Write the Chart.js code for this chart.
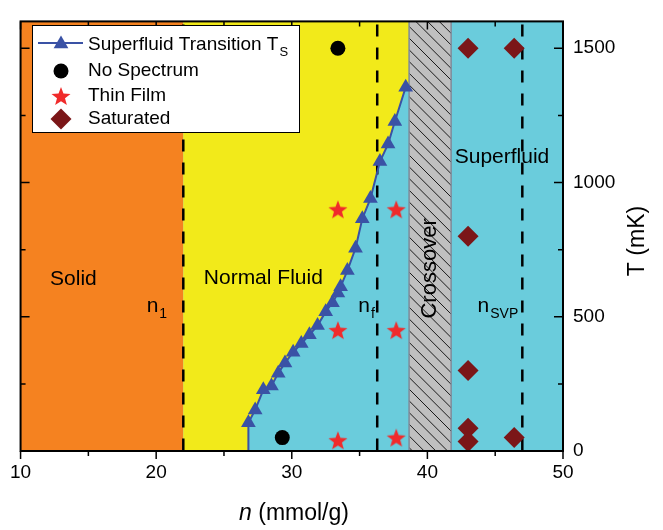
<!DOCTYPE html>
<html>
<head>
<meta charset="utf-8">
<script src="https://cdn.jsdelivr.net/npm/chart.js@4.4.1/dist/chart.umd.min.js"></script>
<style>
  html, body { margin: 0; padding: 0; background: #fff; }
  #wrap { width: 663px; height: 530px; }
</style>
</head>
<body>
<div id="wrap"><canvas id="phaseChart" width="663" height="530"></canvas></div>
<script>
// superfluid transition T_s (first point is where the line leaves the axis)
const tsN = [26.8, 26.8, 27.3, 27.9, 28.5, 29.0, 29.5, 30.1, 30.7, 31.3, 31.9, 32.5, 33.0, 33.4, 33.6, 34.1, 34.7, 35.2, 35.8, 36.5, 37.1, 37.6, 38.4];
const tsT = [0, 105, 153, 228, 242, 290, 328, 368, 400, 433, 467, 519, 552, 588, 612, 672, 755, 865, 940, 1078, 1143, 1227, 1355];

// measurement points
const noSpecN = [33.4, 29.3];
const noSpecT = [1500, 50];
const filmN = [33.4, 37.7, 33.4, 37.7, 33.4, 37.7];
const filmT = [900, 900, 450, 450, 40, 50];
const satN = [43.0, 46.4, 43.0, 43.0, 43.0, 43.0, 46.4];
const satT = [1500, 1500, 800, 300, 85, 35, 50];

// phase regions and boundaries (n in mmol/g)
const solidRange = [10, 22];
const crossoverRange = [38.65, 41.75];
const boundaryN = [22, 36.3, 47.0];          // n1, nf, nSVP

const xTicks = [10, 20, 30, 40, 50];
const xMinor = [15, 25, 35, 45];
const yTicks = [0, 500, 1000, 1500];
const yMinor = [250, 750, 1250];

const ORANGE = '#f58220';
const YELLOW = '#f2ea1a';
const CYAN = '#6accdc';
const GREY = '#c0c0c0';
const BLUE = '#3a52a5';
const RED = '#f02b2b';
const DARKRED = '#7b1618';
const FONT = "'Liberation Sans', Arial, sans-serif";

// five point star marker (Chart.js 'star' is an asterisk)
const starImg = (function () {
    const c = document.createElement('canvas');
    c.width = 22; c.height = 22;
    const g = c.getContext('2d');
    g.fillStyle = RED;
    g.beginPath();
    for (let i = 0; i < 10; i++) {
        const r = i % 2 === 0 ? 10 : 4.2;
        const a = -Math.PI / 2 + i * Math.PI / 5;
        g.lineTo(11 + r * Math.cos(a), 12 + r * Math.sin(a));
    }
    g.closePath();
    g.fill();
    return c;
})();

function pts(xs, ys) {
    return xs.map((v, i) => ({ x: v, y: ys[i] }));
}

function drawSubText(ctx, base, sub, x, y, size, subSize, align) {
    ctx.font = size + 'px ' + FONT;
    const w1 = ctx.measureText(base).width;
    ctx.font = subSize + 'px ' + FONT;
    const w2 = ctx.measureText(sub).width;
    let x0 = x;
    if (align === 'center') x0 = x - (w1 + w2) / 2;
    ctx.textAlign = 'left';
    ctx.textBaseline = 'alphabetic';
    ctx.font = size + 'px ' + FONT;
    ctx.fillText(base, x0, y);
    ctx.font = subSize + 'px ' + FONT;
    ctx.fillText(sub, x0 + w1 + 1, y + subSize * 0.45);
}

const phasePlugin = {
    id: 'phase',
    beforeDatasetsDraw(chart) {
        const { ctx, chartArea: a, scales: { x, y } } = chart;
        const h = a.bottom - a.top;
        ctx.save();
        ctx.beginPath();
        ctx.rect(a.left, a.top, a.right - a.left, h);
        ctx.clip();

        // superfluid background
        const xs1 = x.getPixelForValue(solidRange[1]);
        ctx.fillStyle = CYAN;
        ctx.fillRect(xs1, a.top, a.right - xs1, h);

        // solid
        const xs0 = x.getPixelForValue(solidRange[0]);
        ctx.fillStyle = ORANGE;
        ctx.fillRect(xs0, a.top, xs1 - xs0, h);

        // normal fluid: left of the T_s line
        const xc0 = x.getPixelForValue(crossoverRange[0]);
        const xc1 = x.getPixelForValue(crossoverRange[1]);
        ctx.fillStyle = YELLOW;
        ctx.beginPath();
        ctx.moveTo(xs1, a.bottom);
        tsN.forEach((n, i) => ctx.lineTo(x.getPixelForValue(n), y.getPixelForValue(tsT[i])));
        ctx.lineTo(xc0, y.getPixelForValue(tsT[tsT.length - 1]));
        ctx.lineTo(xc0, a.top);
        ctx.lineTo(xs1, a.top);
        ctx.closePath();
        ctx.fill();

        // crossover band with hatching
        ctx.fillStyle = GREY;
        ctx.fillRect(xc0, a.top, xc1 - xc0, h);
        ctx.save();
        ctx.beginPath();
        ctx.rect(xc0, a.top, xc1 - xc0, h);
        ctx.clip();
        ctx.strokeStyle = '#1a1a1a';
        ctx.lineWidth = 1;
        ctx.beginPath();
        for (let s = xc0 - h - 20; s < xc1 + 20; s += 11.7) {
            ctx.moveTo(s, a.top);
            ctx.lineTo(s + h, a.top + h);
        }
        ctx.stroke();
        ctx.restore();
        ctx.strokeStyle = '#7f8a99';
        ctx.lineWidth = 1.5;
        ctx.beginPath();
        ctx.moveTo(xc0, a.top); ctx.lineTo(xc0, a.bottom);
        ctx.moveTo(xc1, a.top); ctx.lineTo(xc1, a.bottom);
        ctx.stroke();

        // dashed boundaries
        ctx.strokeStyle = '#000';
        ctx.lineWidth = 2.5;
        ctx.setLineDash([12, 11]);
        ctx.beginPath();
        boundaryN.forEach(n => {
            const px = x.getPixelForValue(n);
            ctx.moveTo(px, a.top + 3);
            ctx.lineTo(px, a.bottom);
        });
        ctx.stroke();
        ctx.setLineDash([]);

        // region labels
        ctx.fillStyle = '#000';
        ctx.font = '21px ' + FONT;
        ctx.textAlign = 'center';
        ctx.textBaseline = 'middle';
        ctx.fillText('Solid', x.getPixelForValue(13.9), y.getPixelForValue(640));
        ctx.fillText('Normal Fluid', x.getPixelForValue(27.9), y.getPixelForValue(645));
        ctx.fillText('Superfluid', x.getPixelForValue(45.5), y.getPixelForValue(1095));
        ctx.save();
        ctx.translate(x.getPixelForValue(40.2), y.getPixelForValue(680));
        ctx.rotate(-Math.PI / 2);
        ctx.font = '22px ' + FONT;
        ctx.fillText('Crossover', 0, 0);
        ctx.restore();

        const ly = y.getPixelForValue(548) + 8;
        drawSubText(ctx, 'n', '1', x.getPixelForValue(19.3), ly, 21, 14, 'left');
        drawSubText(ctx, 'n', 'f', x.getPixelForValue(34.9), ly, 21, 14, 'left');
        drawSubText(ctx, 'n', 'SVP', x.getPixelForValue(43.7), ly, 21, 14, 'left');
        ctx.restore();
    },
    afterDraw(chart) {
        const { ctx, chartArea: a, scales: { x, y } } = chart;
        ctx.save();
        // frame
        ctx.strokeStyle = '#000';
        ctx.lineWidth = 2;
        ctx.strokeRect(a.left, a.top, a.right - a.left, a.bottom - a.top);

        // ticks
        ctx.lineWidth = 1.5;
        ctx.beginPath();
        const xt = (vals, len) => vals.forEach(v => {
            const px = x.getPixelForValue(v);
            ctx.moveTo(px, a.bottom); ctx.lineTo(px, a.bottom + len);
            ctx.moveTo(px, a.top); ctx.lineTo(px, a.top + len);
        });
        const yt = (vals, len) => vals.forEach(v => {
            const py = y.getPixelForValue(v);
            ctx.moveTo(a.right, py); ctx.lineTo(a.right - len, py);
            ctx.moveTo(a.left, py); ctx.lineTo(a.left + len, py);
        });
        xt(xTicks, 8); xt(xMinor, 5);
        yt(yTicks, 9); yt(yMinor, 5);
        ctx.stroke();

        // axis titles
        ctx.fillStyle = '#000';
        ctx.textBaseline = 'middle';
        ctx.font = 'italic 23px ' + FONT;
        const wn = ctx.measureText('n').width;
        ctx.font = '23px ' + FONT;
        const wr = ctx.measureText(' (mmol/g)').width;
        const tx = 294 - (wn + wr) / 2;
        ctx.textAlign = 'left';
        ctx.font = 'italic 23px ' + FONT;
        ctx.fillText('n', tx, 514);
        ctx.font = '23px ' + FONT;
        ctx.fillText(' (mmol/g)', tx + wn, 514);

        ctx.save();
        ctx.translate(638, 241);
        ctx.rotate(-Math.PI / 2);
        ctx.textAlign = 'center';
        ctx.fillText('T (mK)', 0, 0);
        ctx.restore();

        // legend
        ctx.fillStyle = '#fff';
        ctx.fillRect(32, 25, 267, 107);
        ctx.strokeStyle = '#000';
        ctx.lineWidth = 1;
        ctx.strokeRect(32.5, 25.5, 267, 107);

        const ds = chart.data.datasets;
        const rows = [43, 71, 96, 119];
        const sx = 61;
        // line + triangle
        ctx.strokeStyle = BLUE;
        ctx.lineWidth = 2;
        ctx.beginPath();
        ctx.moveTo(38, rows[0]); ctx.lineTo(83, rows[0]);
        ctx.stroke();
        [0, 1, 2, 3].forEach(i => {
            const d = ds[i];
            ctx.fillStyle = d.pointBackgroundColor;
            ctx.strokeStyle = d.pointBorderColor;
            Chart.helpers.drawPoint(ctx, {
                pointStyle: d.pointStyle,
                radius: i === 0 ? 8.5 : d.pointRadius,
                rotation: 0,
                borderWidth: 0
            }, sx, rows[i] + (i === 0 ? 1 : 0));
        });
        ctx.fillStyle = '#000';
        ctx.textBaseline = 'alphabetic';
        drawSubText(ctx, 'Superfluid Transition T', 'S', 88, rows[0] + 7, 19, 13, 'left');
        ctx.font = '19px ' + FONT;
        ctx.textBaseline = 'middle';
        ctx.fillText('No Spectrum', 88, rows[1]);
        ctx.fillText('Thin Film', 88, rows[2]);
        ctx.fillText('Saturated', 88, rows[3]);
        ctx.restore();
    }
};

const ctx = document.getElementById('phaseChart').getContext('2d');

new Chart(ctx, {
    type: 'scatter',
    data: {
        datasets: [{
            label: 'Superfluid Transition Ts',
            data: pts(tsN, tsT),
            showLine: true,
            borderColor: BLUE,
            borderWidth: 2,
            pointStyle: 'triangle',
            pointRadius: c => (c.dataIndex === 0 ? 0 : 8.5),
            pointBackgroundColor: BLUE,
            pointBorderColor: BLUE,
            pointBorderWidth: 0,
            tension: 0
        }, {
            label: 'No Spectrum',
            data: pts(noSpecN, noSpecT),
            pointStyle: 'circle',
            pointRadius: 7.5,
            pointBackgroundColor: '#000',
            pointBorderColor: '#000',
            pointBorderWidth: 0
        }, {
            label: 'Thin Film',
            data: pts(filmN, filmT),
            pointStyle: starImg,
            pointRadius: 10,
            pointBackgroundColor: RED,
            pointBorderColor: RED
        }, {
            label: 'Saturated',
            data: pts(satN, satT),
            pointStyle: 'rectRot',
            pointRadius: 10.5,
            pointBackgroundColor: DARKRED,
            pointBorderColor: DARKRED,
            pointBorderWidth: 0
        }]
    },
    options: {
        responsive: false,
        animation: false,
        layout: { padding: { left: 18, top: 4, right: 0, bottom: 0 } },
        plugins: {
            legend: { display: false },
            tooltip: { enabled: false }
        },
        scales: {
            x: {
                type: 'linear',
                min: 10,
                max: 50,
                afterBuildTicks: s => { s.ticks = xTicks.map(v => ({ value: v })); },
                afterFit: s => { s.height = 79; },
                ticks: { color: '#000', font: { size: 19, family: FONT }, padding: 10, maxRotation: 0, callback: v => String(v) },
                grid: { display: false, drawTicks: false, tickLength: 0 },
                border: { display: false }
            },
            y: {
                type: 'linear',
                position: 'right',
                min: 0,
                max: 1600,
                afterBuildTicks: s => { s.ticks = yTicks.map(v => ({ value: v })); },
                afterFit: s => { s.width = 100; },
                ticks: { color: '#000', font: { size: 19, family: FONT }, padding: 10, callback: v => String(v) },
                grid: { display: false, drawTicks: false, tickLength: 0 },
                border: { display: false }
            }
        }
    },
    plugins: [phasePlugin]
});
</script>
</body>
</html>
